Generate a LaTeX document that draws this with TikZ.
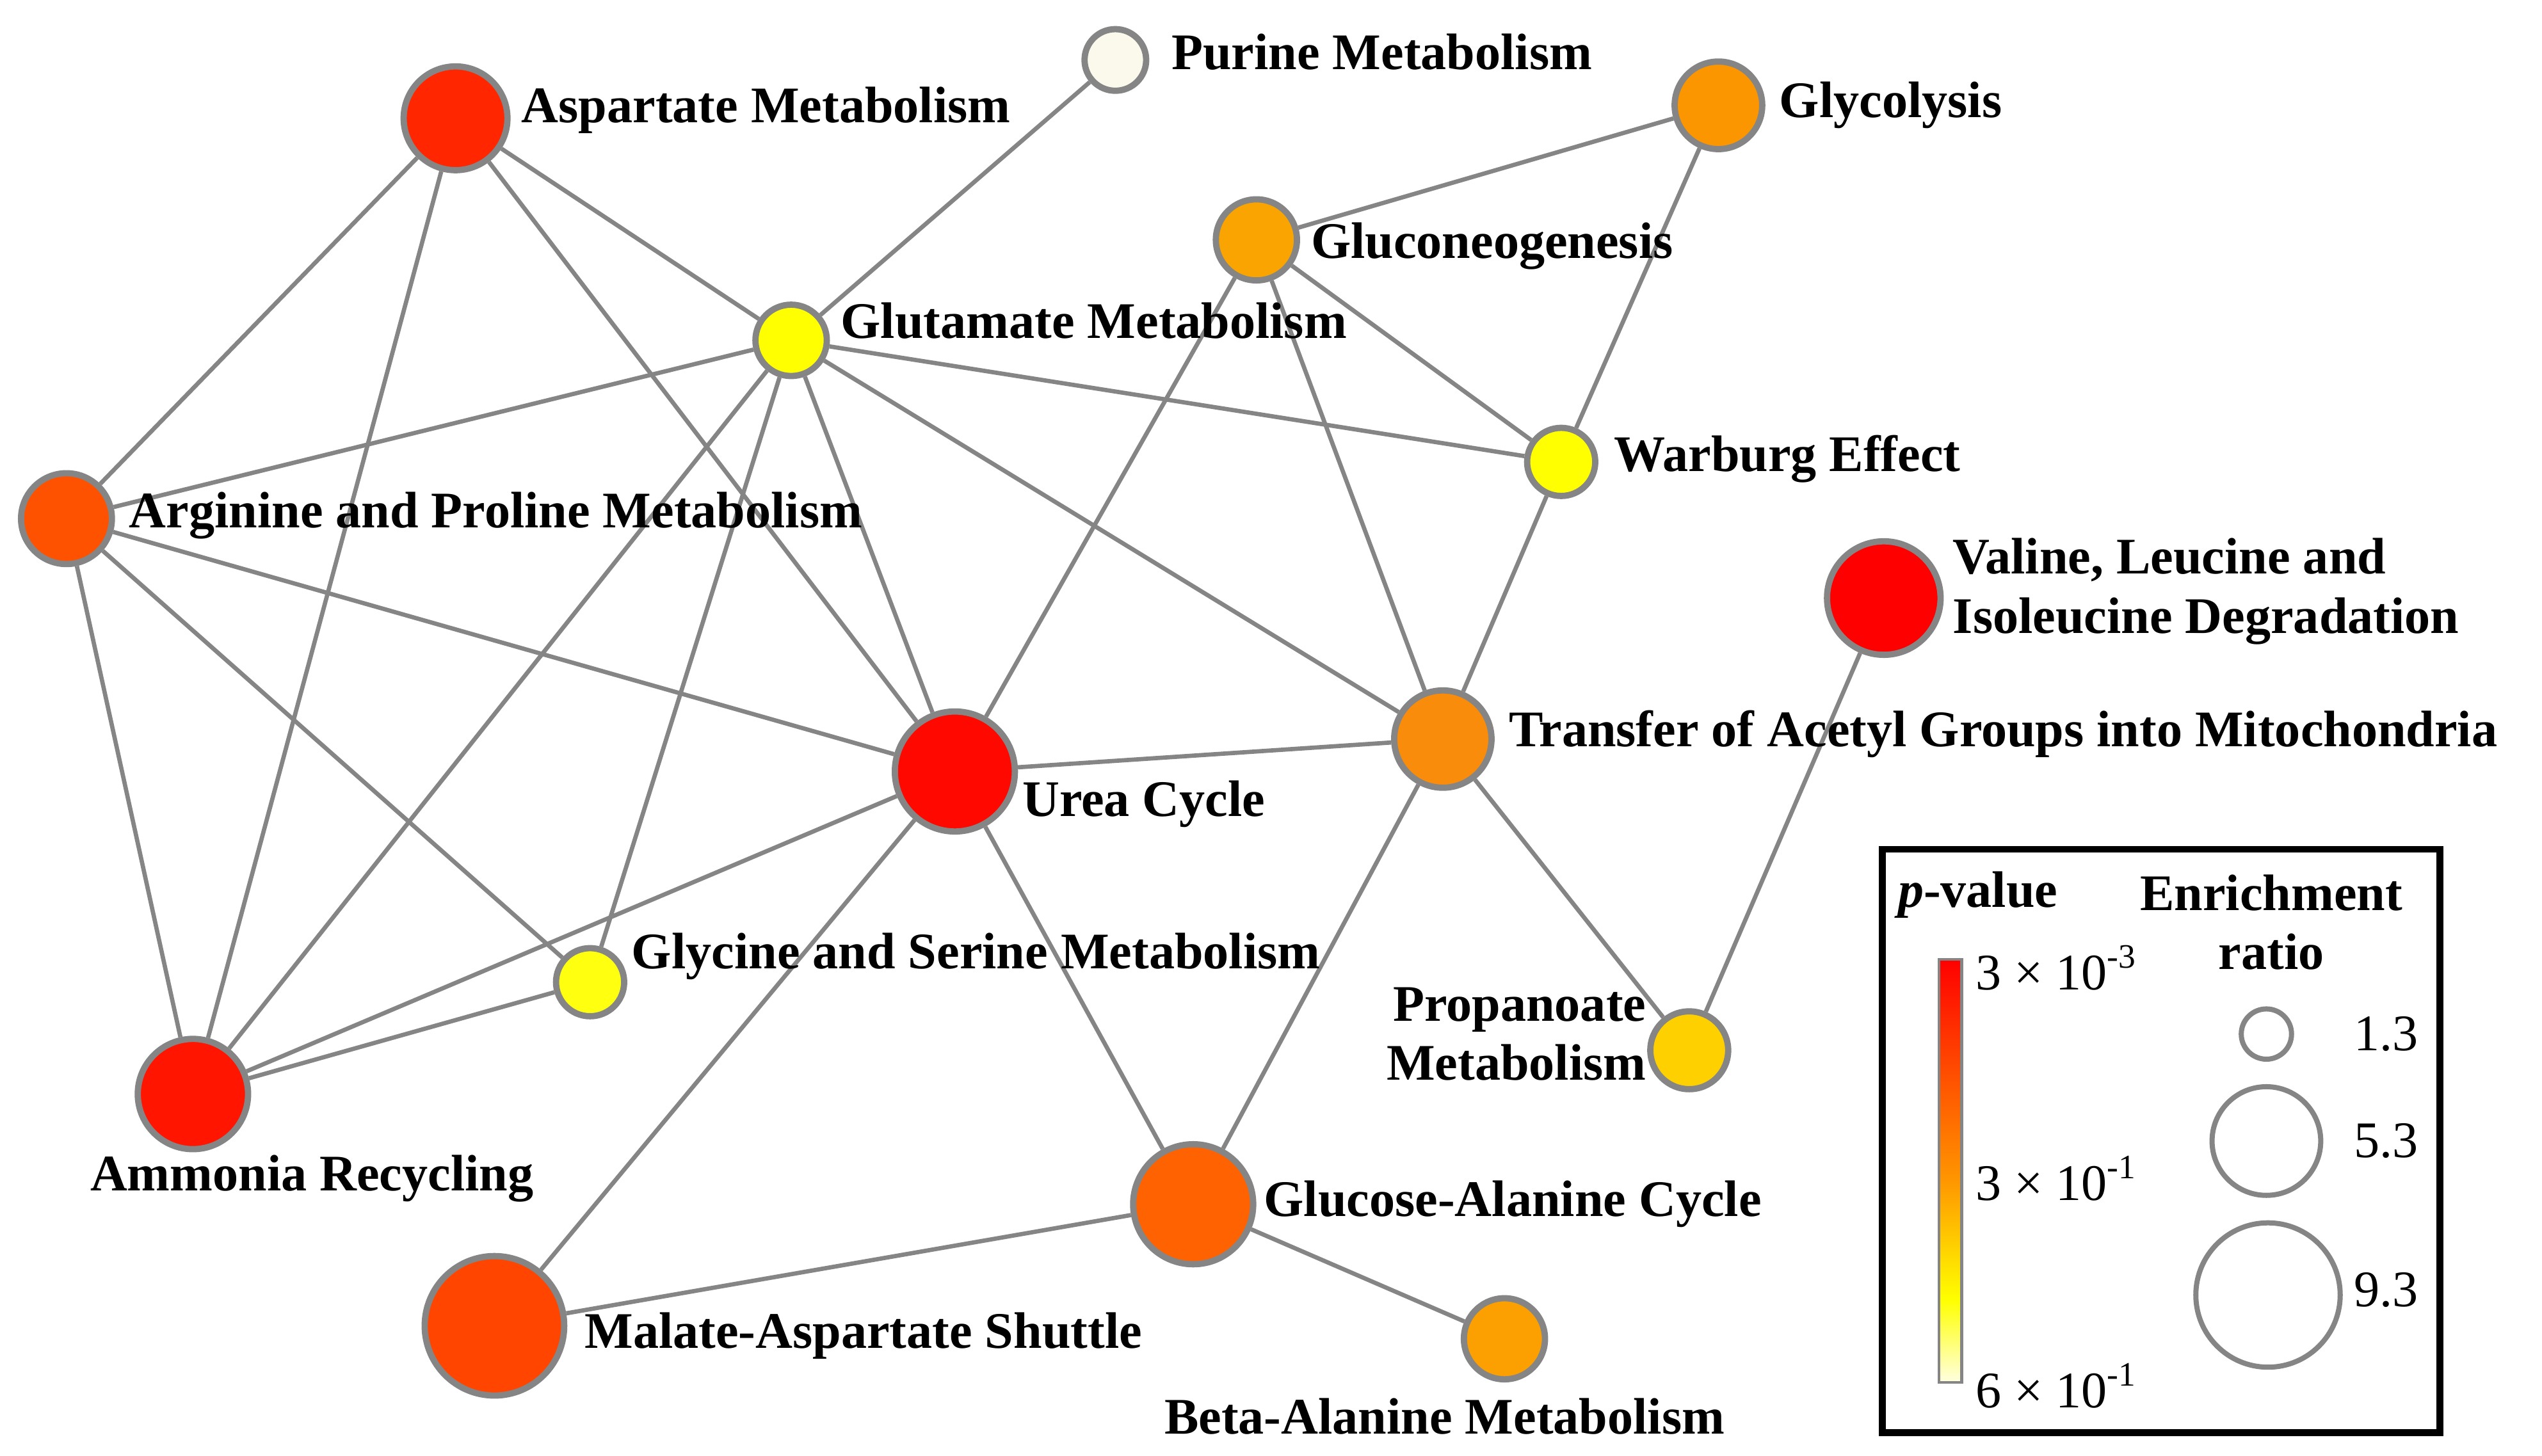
\documentclass[tikz,border=0pt]{standalone}
\usepackage{fontspec}
\setmainfont{Liberation Serif}
\usepackage{tikz}

\definecolor{edgegray}{HTML}{858585}
\definecolor{cAsp}{HTML}{FF2600}
\definecolor{cPur}{HTML}{FAF9EC}
\definecolor{cGly}{HTML}{FB9500}
\definecolor{cGng}{HTML}{F9A400}
\definecolor{cGlu}{HTML}{FFFF00}
\definecolor{cWar}{HTML}{FFFF00}
\definecolor{cArg}{HTML}{FF5200}
\definecolor{cVal}{HTML}{FF0000}
\definecolor{cTac}{HTML}{F98C0A}
\definecolor{cUrea}{HTML}{FF0800}
\definecolor{cGs}{HTML}{FFFF10}
\definecolor{cPro}{HTML}{FFD000}
\definecolor{cAmm}{HTML}{FF1500}
\definecolor{cGac}{HTML}{FF6200}
\definecolor{cMas}{HTML}{FF4500}
\definecolor{cBal}{HTML}{FBA000}

\begin{document}
\begin{tikzpicture}[x=0.01cm,y=-0.01cm]
  \tikzstyle{pathway} = [circle, draw=edgegray, line width=1.1pt, inner sep=0pt]
  \tikzstyle{caption} = [font=\fontsize{9}{10.4}\selectfont\bfseries, inner sep=0pt]
  \tikzstyle{keytext} = [font=\fontsize{9}{10.4}\selectfont, inner sep=0pt]
  \tikzstyle{link} = [draw=edgegray, line width=0.75pt]
  \tikzstyle{sizekey} = [circle, draw=edgegray, line width=0.9pt, inner sep=0pt]

  \useasboundingbox (0,0) rectangle (1568,898);

  \node[pathway, fill=cAsp, minimum size=0.64cm] (asp) at (281,73) {};
  \node[pathway, fill=cPur, minimum size=0.38cm] (pur) at (688,37) {};
  \node[pathway, fill=cGly, minimum size=0.54cm] (gly) at (1060,65) {};
  \node[pathway, fill=cGng, minimum size=0.50cm] (gng) at (775,148) {};
  \node[pathway, fill=cGlu, minimum size=0.44cm] (glu) at (488,210) {};
  \node[pathway, fill=cWar, minimum size=0.42cm] (war) at (963,285) {};
  \node[pathway, fill=cArg, minimum size=0.56cm] (arg) at (41,320) {};
  \node[pathway, fill=cVal, minimum size=0.70cm] (val) at (1162,369) {};
  \node[pathway, fill=cTac, minimum size=0.60cm] (tac) at (890,456) {};
  \node[pathway, fill=cUrea, minimum size=0.74cm] (urea) at (589,476) {};
  \node[pathway, fill=cGs, minimum size=0.42cm] (gs) at (364,606) {};
  \node[pathway, fill=cPro, minimum size=0.48cm] (pro) at (1042,648) {};
  \node[pathway, fill=cAmm, minimum size=0.68cm] (amm) at (119,675) {};
  \node[pathway, fill=cGac, minimum size=0.74cm] (gac) at (736,743) {};
  \node[pathway, fill=cMas, minimum size=0.86cm] (mas) at (305,818) {};
  \node[pathway, fill=cBal, minimum size=0.50cm] (bal) at (928,826) {};

  \draw[link] (asp) -- (arg);
  \draw[link] (asp) -- (amm);
  \draw[link] (asp) -- (urea);
  \draw[link] (asp) -- (glu);
  \draw[link] (pur) -- (glu);
  \draw[link] (gly) -- (gng);
  \draw[link] (gly) -- (war);
  \draw[link] (gng) -- (urea);
  \draw[link] (gng) -- (tac);
  \draw[link] (gng) -- (war);
  \draw[link] (glu) -- (arg);
  \draw[link] (glu) -- (war);
  \draw[link] (glu) -- (tac);
  \draw[link] (glu) -- (urea);
  \draw[link] (glu) -- (amm);
  \draw[link] (glu) -- (gs);
  \draw[link] (war) -- (tac);
  \draw[link] (arg) -- (urea);
  \draw[link] (arg) -- (gs);
  \draw[link] (arg) -- (amm);
  \draw[link] (urea) -- (tac);
  \draw[link] (urea) -- (amm);
  \draw[link] (urea) -- (mas);
  \draw[link] (urea) -- (gac);
  \draw[link] (amm) -- (gs);
  \draw[link] (tac) -- (gac);
  \draw[link] (tac) -- (pro);
  \draw[link] (pro) -- (val);
  \draw[link] (gac) -- (mas);
  \draw[link] (gac) -- (bal);

  \node[caption, anchor=west] (asp-l) at (321,68) {Aspartate Metabolism};
  \node[caption, anchor=west] (pur-l) at (722,32) {Purine Metabolism};
  \node[caption, anchor=west] (gly-l) at (1097,65) {Glycolysis};
  \node[caption, anchor=west] (gng-l) at (808,152) {Gluconeogenesis};
  \node[caption, anchor=west] (glu-l) at (518,198) {Glutamate Metabolism};
  \node[caption, anchor=west] (war-l) at (995,283) {Warburg Effect};
  \node[caption, anchor=west] (arg-l) at (79,318) {Arginine and Proline Metabolism};
  \node[caption, anchor=west, align=left] (val-l) at (1204,365) {Valine, Leucine and\\Isoleucine Degradation};
  \node[caption, anchor=west] (tac-l) at (930,453) {Transfer of Acetyl Groups into Mitochondria};
  \node[caption, anchor=west] (urea-l) at (630,496) {Urea Cycle};
  \node[caption, anchor=west] (gs-l) at (389,590) {Glycine and Serine Metabolism};
  \node[caption, anchor=east, align=right] (pro-l) at (1016,638) {Propanoate\\Metabolism};
  \node[caption, anchor=west] (amm-l) at (55,727) {Ammonia Recycling};
  \node[caption, anchor=west] (gac-l) at (779,743) {Glucose-Alanine Cycle};
  \node[caption, anchor=west] (mas-l) at (360,824) {Malate-Aspartate Shuttle};
  \node[caption] (bal-l) at (891,874) {Beta-Alanine Metabolism};

  % legend
  \draw[line width=1.2pt] (1161,524) rectangle (1505,884);
  \node[caption] (pval) at (1220,552) {\textit{p}-value};
  \node[caption, align=center] (enr) at (1401,569) {Enrichment\\ratio};
  \shade[top color=red, bottom color={rgb,255:red,255;green,150;blue,0}] (1196,592) rectangle (1210,728);
  \shade[top color={rgb,255:red,255;green,150;blue,0}, bottom color=yellow] (1196,728) rectangle (1210,802);
  \shade[top color=yellow, bottom color={rgb,255:red,255;green,255;blue,225}] (1196,802) rectangle (1210,853);
  \draw[edgegray, line width=0.5pt] (1196,592) rectangle (1210,853);
  \node[keytext, anchor=west] (t1) at (1218,597) {3 × 10\textsuperscript{-3}};
  \node[keytext, anchor=west] (t2) at (1218,727) {3 × 10\textsuperscript{-1}};
  \node[keytext, anchor=west] (t3) at (1218,855) {6 × 10\textsuperscript{-1}};
  \node[sizekey, minimum size=0.31cm] (s1) at (1398,638) {};
  \node[sizekey, minimum size=0.67cm] (s2) at (1398,704) {};
  \node[sizekey, minimum size=0.89cm] (s3) at (1399,799) {};
  \node[keytext] (s1-l) at (1472,638) {1.3};
  \node[keytext] (s2-l) at (1472,704) {5.3};
  \node[keytext] (s3-l) at (1472,796) {9.3};
\end{tikzpicture}
\end{document}
